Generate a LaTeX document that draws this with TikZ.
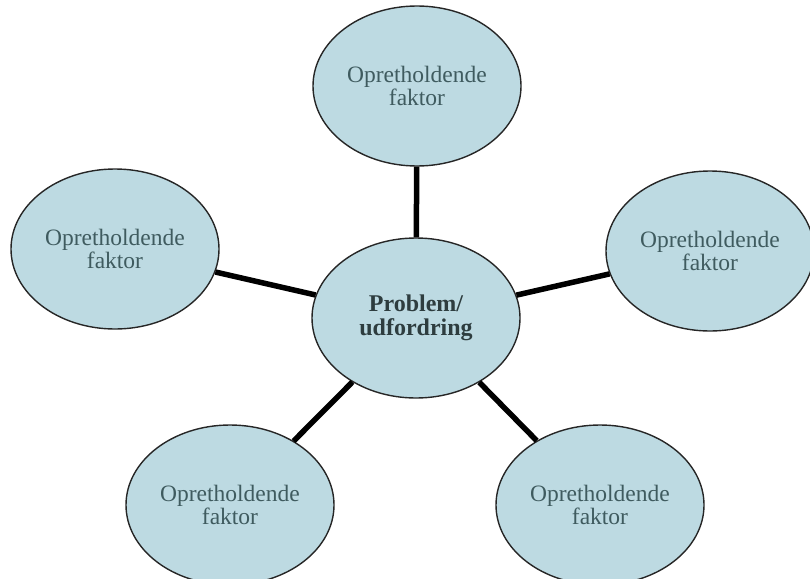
\documentclass[tikz,border=0pt]{standalone}
\usepackage{fontspec}
\setmainfont{Liberation Serif}
\usetikzlibrary{shapes.geometric}
\definecolor{bubblefill}{HTML}{BDDAE2}
\definecolor{txt}{HTML}{3F5B5F}
\definecolor{ctxt}{HTML}{2E3D3F}
\begin{document}
\begin{tikzpicture}[x=1pt,y=-1pt,
  bubble/.style={ellipse, draw=black!85, line width=1.4pt, fill=bubblefill,
    minimum width=208pt, minimum height=160pt, inner sep=0pt, align=center,
    font=\fontsize{23.5}{21}\selectfont, text=txt},
  hub/.style={bubble, font=\fontsize{24}{24}\selectfont\bfseries, text=ctxt},
  link/.style={line width=5.5pt, black}]
\useasboundingbox (0,0) rectangle (810,578);
\node[hub] (c) at (416,318) {Problem/\\udfordring};
\node[bubble] (t) at (417,86) {Opretholdende\\faktor};
\node[bubble] (l) at (115,249) {Opretholdende\\faktor};
\node[bubble] (r) at (710,251) {Opretholdende\\faktor};
\node[bubble] (bl) at (230,505) {Opretholdende\\faktor};
\node[bubble] (br) at (600,505) {Opretholdende\\faktor};
\draw[link] (c) -- (t);
\draw[link] (c) -- (l);
\draw[link] (c) -- (r);
\draw[link] (c) -- (bl);
\draw[link] (c) -- (br);
\end{tikzpicture}
\end{document}
